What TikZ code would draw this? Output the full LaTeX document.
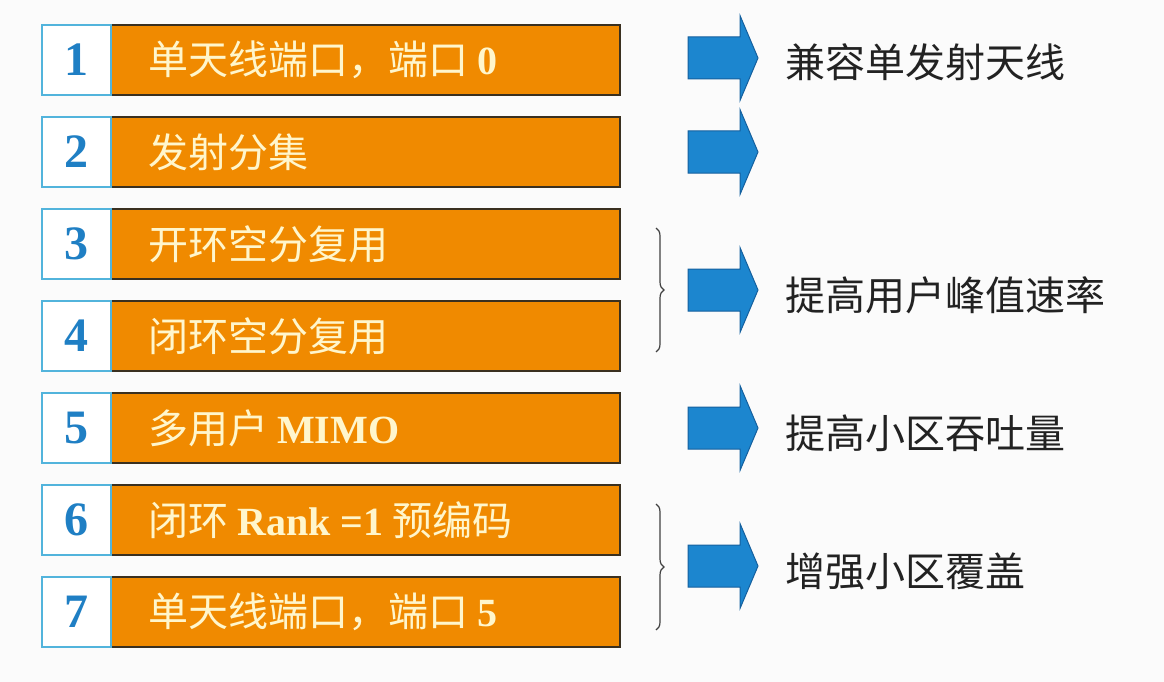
\documentclass[tikz,border=0pt]{standalone}
\usepackage{fontspec}
\newfontfamily\cjk{Noto Sans CJK SC}
\newfontfamily\lat{Liberation Serif}
\usetikzlibrary{decorations.pathreplacing}
\definecolor{bg}{HTML}{FBFBFB}
\definecolor{barorange}{HTML}{F08A00}
\definecolor{barline}{HTML}{3A3020}
\definecolor{numblue}{HTML}{1F7FC4}
\definecolor{numline}{HTML}{52B4DC}
\definecolor{bartext}{HTML}{FFF6CC}
\definecolor{arrfill}{HTML}{1C86CF}
\definecolor{arrline}{HTML}{15609E}
\definecolor{restext}{HTML}{222222}
\tikzset{
  numbox/.style={draw=numline, line width=2.5pt, fill=white, minimum width=69pt, minimum height=70pt, inner sep=0pt, font=\lat\bfseries\fontsize{48}{52}\selectfont, text=numblue},
  barbox/.style={draw=barline, line width=1.5pt, fill=barorange, minimum width=509pt, minimum height=70pt, inner sep=0pt},
  bartxt/.style={anchor=west, inner sep=0pt, text=bartext, font=\cjk\fontsize{40}{44}\selectfont},
  restxt/.style={anchor=west, inner sep=0pt, text=restext, font=\cjk\fontsize{40}{46}\selectfont},
  blockarrow/.style={fill=arrfill, draw=arrline, line width=1pt, line join=miter},
  bracestyle/.style={draw=black!75, line width=1.2pt, decorate, decoration={brace, amplitude=8pt}}
}
\newcommand{\bararrow}[2]{%
  \coordinate (#1) at (688,#2);
  \path[blockarrow] (#1) ++(0,-21) -- ++(52,0) -- ++(0,-21.5) -- ++(18,42.5) -- ++(-18,42.5) -- ++(0,-21.5) -- ++(-52,0) -- cycle;}
\begin{document}
\begin{tikzpicture}[x=1pt,y=-1pt]
\fill[bg] (0,0) rectangle (1164,682);
\useasboundingbox (0,0) rectangle (1164,682);
% rows
\foreach \i/\txt in {1/{单天线端口，端口 {\lat\bfseries 0}},
                     2/{发射分集},
                     3/{开环空分复用},
                     4/{闭环空分复用},
                     5/{多用户 {\lat\bfseries MIMO}},
                     6/{闭环 {\lat\bfseries Rank =1} 预编码},
                     7/{单天线端口，端口 {\lat\bfseries 5}}}{
  \pgfmathsetmacro{\cy}{60+92*(\i-1)}
  \node[barbox] (bar\i) at (365.5,\cy) {};
  \node[numbox] (num\i) at (76.5,\cy) {\i};
  \node[bartxt] (txt\i) at (148,\cy) {\txt};
}
% arrows
\bararrow{arr1}{58}
\bararrow{arr2}{152}
\bararrow{arr3}{290}
\bararrow{arr5}{428}
\bararrow{arr6}{566}
% braces
\coordinate (b34t) at (656,228);
\coordinate (b34b) at (656,352);
\coordinate (b67t) at (656,504);
\coordinate (b67b) at (656,630);
\draw[bracestyle] (b34t) -- (b34b);
\draw[bracestyle] (b67t) -- (b67b);
% results
\node[restxt] (res1) at (785,62) {兼容单发射天线};
\node[restxt] (res3) at (785,295) {提高用户峰值速率};
\node[restxt] (res5) at (785,433) {提高小区吞吐量};
\node[restxt] (res6) at (785,571) {增强小区覆盖};
\end{tikzpicture}
\end{document}
